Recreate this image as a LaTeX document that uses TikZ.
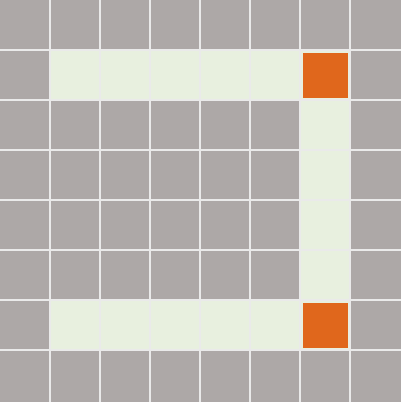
\documentclass[tikz,border=0pt]{standalone}
\usepackage{xcolor}
\usepackage{tikz}
\definecolor{wall}{HTML}{ADA8A7}
\definecolor{path}{HTML}{E8F0DF}
\definecolor{goal}{HTML}{E0671C}
\definecolor{seam}{HTML}{EAEAEA}
\begin{document}
\begin{tikzpicture}[
        x=1pt, y=-1pt,
        floor/.style={fill=path},
        marker/.style={fill=goal},
        seamline/.style={draw=seam, line width=1.6pt}
    ]
        \useasboundingbox (0,0) rectangle (401,402);
        % wall background
        \fill[wall] (0,0) rectangle (401,402);

        % path cells
        \foreach \c in {1,...,6} {
            \fill[floor] (50*\c,50) rectangle ++(50,50);
            \fill[floor] (50*\c,300) rectangle ++(50,50);
        }
        \foreach \r in {2,...,5}
            \fill[floor] (300,50*\r) rectangle ++(50,50);

        % end markers
        \fill[marker] (303,53) rectangle (348,98);
        \fill[marker] (303,303) rectangle (348,348);

        % grid seams
        \foreach \k in {1,...,7} {
            \draw[seamline] (50*\k,0) -- (50*\k,402);
            \draw[seamline] (0,50*\k) -- (401,50*\k);
        }
    \end{tikzpicture}
\end{document}
